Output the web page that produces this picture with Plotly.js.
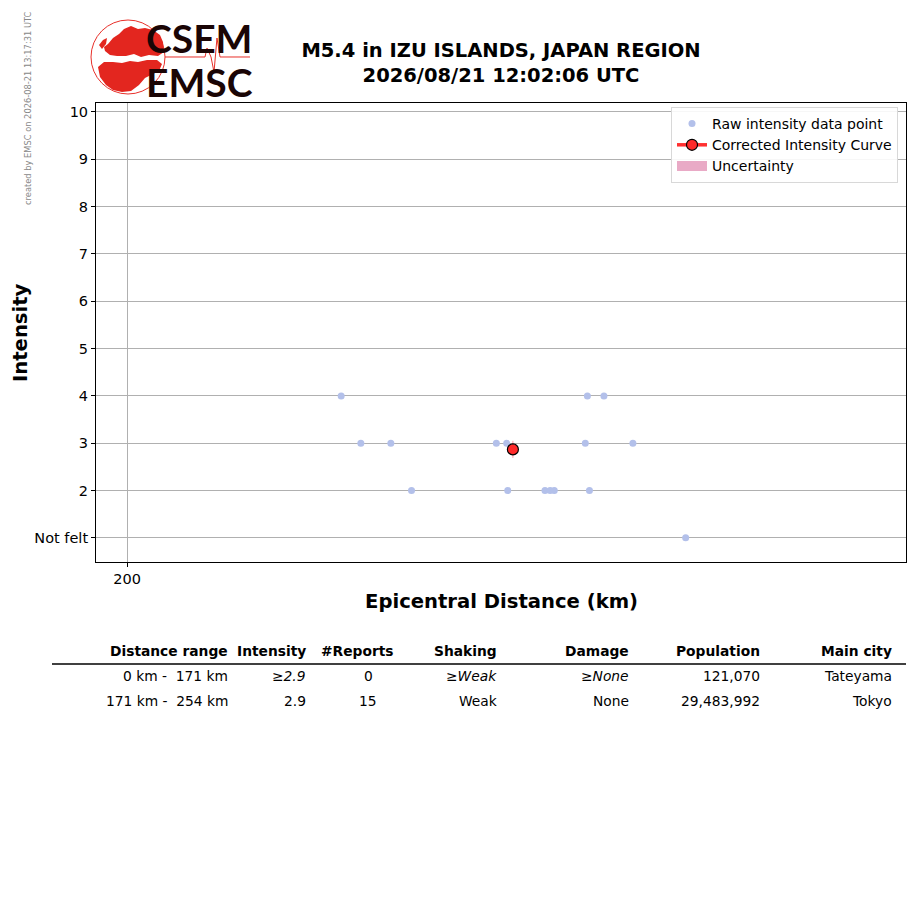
<!DOCTYPE html>
<html>
<head>
<meta charset="utf-8">
<script src="https://cdn.plot.ly/plotly-3.0.1.min.js"></script>
<style>html,body{margin:0;padding:0;background:#fff}#chart{width:915px;height:905px}</style>
</head>
<body>
<div id="chart"></div>
<script>
// ---- data ----
const titleLines = ["M5.4 in IZU ISLANDS, JAPAN REGION", "2026/08/21 12:02:06 UTC"];
const creditText = "created by EMSC on 2026-08-21 13:17:31 UTC";
const rawDistance = [220.7, 244.5, 246.1, 222.6, 225.5, 235.7, 236.7, 244.3, 248.9, 227.5, 236.8, 240.4, 240.9, 241.3, 244.7, 254.0];
const rawIntensity = [4, 4, 4, 3, 3, 3, 3, 3, 3, 2, 2, 2, 2, 2, 2, 1];
const corrDistance = [237.3];
const corrIntensity = [2.87];
const corrUncertainty = [0.18];
const yTickVals = [1, 2, 3, 4, 5, 6, 7, 8, 9, 10];
const yTickText = ["Not felt", "2", "3", "4", "5", "6", "7", "8", "9", "10"];
const xTickVals = [200];
const tableHeader = ["Distance range", "Intensity", "#Reports", "Shaking", "Damage", "Population", "Main city"];
const tableRow1 = ["0 km -  171 km", "≥<i>2.9</i>", "0", "≥<i>Weak</i>", "≥<i>None</i>", "121,070", "Tateyama"];
const tableRow2 = ["171 km -  254 km", "2.9", "15", "Weak", "None", "29,483,992", "Tokyo"];

// ---- layout helpers (pixel -> paper) ----
const L = 96, R = 906, T = 103, B = 562;
const px = v => (v - L) / (R - L);
const py = v => (B - v) / (B - T);
const FONT = "DejaVu Sans, Verdana, sans-serif";

const traces = [
  {x: rawDistance, y: rawIntensity, type: "scatter", mode: "markers", name: "Raw intensity data point",
   marker: {color: "#b3c0ea", size: 7}, cliponaxis: false},
  {x: corrDistance, y: corrIntensity, type: "scatter", mode: "lines+markers", name: "Corrected Intensity Curve",
   line: {color: "#ff3030", width: 3.5},
   marker: {color: "#ff2a2a", size: 11, line: {color: "#000", width: 1.2}},
   error_y: {type: "data", array: corrUncertainty, color: "rgba(255,80,100,0.55)", thickness: 1, width: 0}},
  {x: [null], y: [null], type: "scatter", mode: "lines", name: "Uncertainty",
   line: {color: "#e9aac6", width: 11}}
];

// table annotations
const colRight = [230, 308, 396, 499, 631, 762, 894];
const annotations = [];
tableHeader.forEach((t, i) => annotations.push({
  text: "<b>" + t + "</b>", x: px(colRight[i]), y: py(651), xref: "paper", yref: "paper",
  xanchor: "right", yanchor: "middle", showarrow: false, font: {family: FONT, size: 13.8, color: "#000"}}));
[tableRow1, tableRow2].forEach((row, r) => row.forEach((t, i) => {
  const isRep = i === 2;
  annotations.push({
    text: t, x: px(isRep ? 368 : colRight[i]), y: py(r === 0 ? 676 : 701), xref: "paper", yref: "paper",
    xanchor: isRep ? "center" : "right", yanchor: "middle", showarrow: false,
    font: {family: FONT, size: 13.8, color: "#000"}});
}));
// axis titles
annotations.push({text: "<b>Epicentral Distance (km)</b>", x: px(501), y: py(601), xref: "paper", yref: "paper",
  xanchor: "center", yanchor: "middle", showarrow: false, font: {family: FONT, size: 19.6, color: "#000"}});
annotations.push({text: "<b>Intensity</b>", x: px(20), y: py(333), xref: "paper", yref: "paper",
  xanchor: "center", yanchor: "middle", textangle: -90, showarrow: false, font: {family: FONT, size: 19.6, color: "#000"}});
// credit
annotations.push({text: creditText, x: px(28), y: py(108), xref: "paper", yref: "paper",
  xanchor: "center", yanchor: "middle", textangle: -90, showarrow: false, font: {family: FONT, size: 8.3, color: "#888"}});
// logo text
annotations.push({text: "<b>CSEM</b>", x: px(199), y: py(38), xref: "paper", yref: "paper",
  xanchor: "center", yanchor: "middle", showarrow: false, font: {family: "Lato, DejaVu Sans", size: 39, color: "#1a0505"}});
annotations.push({text: "<b>EMSC</b>", x: px(199), y: py(82), xref: "paper", yref: "paper",
  xanchor: "center", yanchor: "middle", showarrow: false, font: {family: "Lato, DejaVu Sans", size: 39, color: "#1a0505"}});

// logo shapes
function pathFrom(points, close) {
  return points.map((p, i) => (i ? "L" : "M") + px(p[0]).toFixed(5) + "," + py(p[1]).toFixed(5)).join(" ") + (close ? " Z" : "");
}
const europe = [[108,44],[113,38],[119,34],[124,29],[131,26],[138,29],[145,28],[153,30],[160,35],[163,42],[164,52],[158,56],[149,55],[141,57],[134,54],[126,56],[117,56],[110,55],[105,51],[104,47]];
const africa = [[98,67],[104,62],[113,62],[122,63],[130,61],[138,62],[147,60],[157,60],[162,64],[159,71],[151,75],[145,78],[139,85],[131,91],[122,92],[113,90],[106,85],[100,77]];
const isles = [[99,45],[103,40],[107,38],[106,44],[102,49]];
const seismo = [[165,57],[205,57],[207,48],[211,57],[214,72],[217,38],[220,57],[250,57]];

const shapes = [
  {type: "circle", xref: "paper", yref: "paper", x0: px(91), x1: px(165), y0: py(94), y1: py(20),
   line: {color: "#e8302a", width: 1}, fillcolor: "rgba(0,0,0,0)"},
  {type: "path", xref: "paper", yref: "paper", path: pathFrom(europe, true), fillcolor: "#e3261f", line: {width: 0}},
  {type: "path", xref: "paper", yref: "paper", path: pathFrom(africa, true), fillcolor: "#e3261f", line: {width: 0}},
  {type: "path", xref: "paper", yref: "paper", path: pathFrom(isles, true), fillcolor: "#e3261f", line: {width: 0}},
  {type: "path", xref: "paper", yref: "paper", path: pathFrom(seismo, false), line: {color: "#e8302a", width: 1}},
  // table header rule
  {type: "line", xref: "paper", yref: "paper", x0: px(52), x1: px(906), y0: py(664), y1: py(664),
   line: {color: "#000", width: 1.6}}
];

const layout = {
  width: 915, height: 905,
  margin: {l: L, r: 915 - R, t: T, b: 905 - B, pad: 0},
  paper_bgcolor: "#fff", plot_bgcolor: "#fff",
  font: {family: FONT, size: 14.5, color: "#000"},
  title: {text: "<b>" + titleLines[0] + "</b><br><b>" + titleLines[1] + "</b>", x: 0.5, xref: "paper",
          y: 1 - 57 / 905, yanchor: "middle", font: {family: FONT, size: 19.5, color: "#000"}},
  xaxis: {range: [197.0, 275.3], tickvals: xTickVals, ticktext: ["200"], showgrid: true, gridcolor: "#b0b0b0",
          gridwidth: 1, zeroline: false, showline: true, mirror: true, linecolor: "#000", linewidth: 1,
          ticks: "outside", ticklen: 4, tickcolor: "#000", tickfont: {family: FONT, size: 14.5}},
  yaxis: {range: [0.49, 10.19], tickvals: yTickVals, ticktext: yTickText, showgrid: true, gridcolor: "#b0b0b0",
          gridwidth: 1, zeroline: false, showline: true, mirror: true, linecolor: "#000", linewidth: 1,
          ticks: "outside", ticklen: 4, tickcolor: "#000", tickfont: {family: FONT, size: 14.5}},
  legend: {x: px(898), xref: "paper", xanchor: "right", y: py(107), yanchor: "top",
           bgcolor: "rgba(255,255,255,0.9)", bordercolor: "#d8d8d8", borderwidth: 1,
           font: {family: FONT, size: 14, color: "#000"}, tracegroupgap: 0},
  showlegend: true,
  annotations: annotations,
  shapes: shapes
};

Plotly.newPlot("chart", traces, layout, {displayModeBar: false, staticPlot: true});
</script>
</body>
</html>
